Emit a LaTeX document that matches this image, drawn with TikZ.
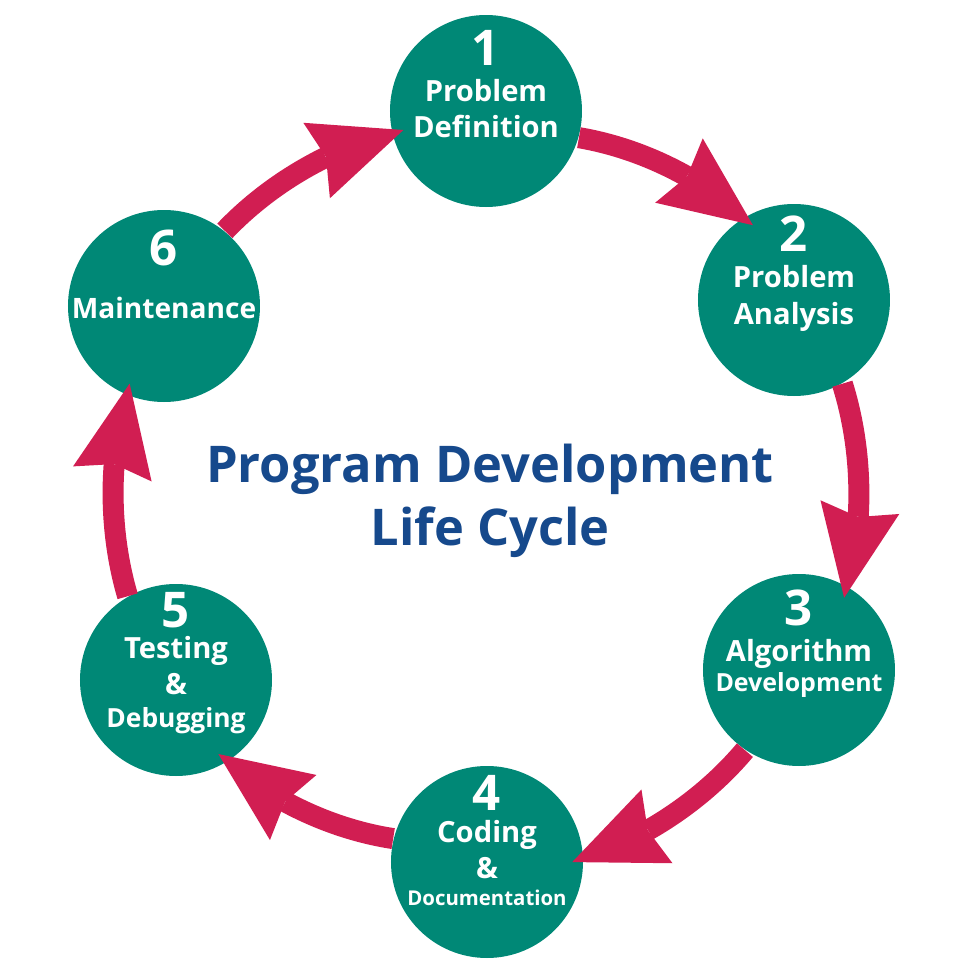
\documentclass[tikz,border=0pt]{standalone}
\usepackage{fontspec}
\setmainfont{Open Sans}
\usetikzlibrary{arrows.meta,bending}
\definecolor{stageteal}{RGB}{0,136,118}
\definecolor{flowred}{RGB}{209,30,82}
\definecolor{titleblue}{RGB}{22,73,140}
\newcommand{\stagenum}[1]{{\fontsize{14}{16}\selectfont #1}}
\begin{document}
\begin{tikzpicture}[
    stage/.style={circle, fill=stageteal, minimum size=1.92cm, inner sep=0pt},
    stagetext/.style={anchor=north, align=center, text=white, inner sep=0pt,
      font=\bfseries\fontsize{8.3}{10.3}\selectfont},
    flow/.style={draw=flowred, line width=2.1mm, shorten >=-1.2mm,
      -{Stealth[length=9.2mm, width=8mm, inset=1mm, line width=0pt]},
      bend left=16, looseness=0.85}
  ]
  \useasboundingbox (0,0) rectangle (9.8,9.8);
  % the six stages
  \node[stage] (c1) at (4.86,8.69) {};
  \node[stage] (c2) at (7.94,6.80) {};
  \node[stage] (c3) at (7.99,3.10) {};
  \node[stage] (c4) at (4.87,1.18) {};
  \node[stage] (c5) at (1.76,3.00) {};
  \node[stage] (c6) at (1.64,6.74) {};
  \node[stagetext] (t1) at ([yshift=-1.5mm]c1.north) {\stagenum{1}\\Problem\\Definition};
  \node[stagetext] (t2) at ([yshift=-1.2mm]c2.north) {\stagenum{2}\\Problem\\Analysis};
  \node[stagetext] (t3) at ([yshift=-1.6mm]c3.north)
    {\stagenum{3}\\Algorithm\\[-2pt]{\fontsize{7.1}{8}\selectfont Development}};
  \node[stagetext] (t4) at ([yshift=-0.9mm]c4.north)
    {\stagenum{4}\\[-1.2pt]Coding\\\&\\[-2.6pt]{\fontsize{5.8}{7}\selectfont Documentation}};
  \node[stagetext] (t5) at ([yshift=-0.8mm]c5.north)
    {\stagenum{5}\\[-1.5pt]Testing\\\&\\[-0.9pt]{\fontsize{7.5}{9}\selectfont Debugging}};
  \node[stagetext] (t6) at ([yshift=-2mm]c6.north)
    {\stagenum{6}\\[4.7pt]{\fontsize{8}{10}\selectfont Maintenance}};
  % arrows round the cycle
  \foreach \a/\b/\s/\t in {c1/c2/-16/121, c2/c3/-60/60, c3/c4/-124/2,
                          c4/c5/166/-58, c5/c6/120/-113, c6/c1/51/193}
    \draw[flow] (\a.\s) to (\b.\t);
  % title
  \node[font=\bfseries\fontsize{14.4}{17.9}\selectfont, text=titleblue, align=center]
    (title) at (4.90,4.79) {Program Development\\Life Cycle};
\end{tikzpicture}
\end{document}
